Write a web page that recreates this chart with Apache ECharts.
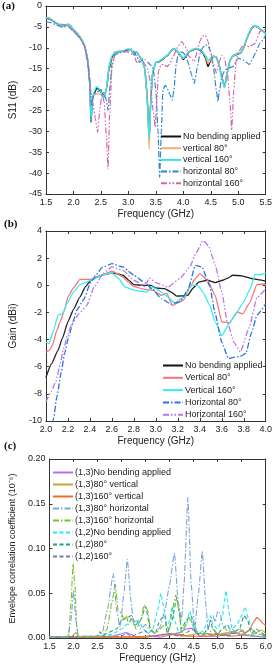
<!DOCTYPE html>
<html><head><meta charset="utf-8">
<script src="https://cdn.jsdelivr.net/npm/echarts@6/dist/echarts.min.js"></script>
<style>html,body{margin:0;padding:0;background:#fff}#c{width:275px;height:664px}</style>
</head><body><div id="c"></div>
<script>
// ---------- Panel (a): S11 (dB) ----------
const a_noBend = [[1.5,-3.0],[1.55,-2.9],[1.6,-3.3],[1.65,-3.8],[1.7,-4.2],[1.75,-4.6],[1.8,-4.8],[1.85,-4.6],[1.9,-4.4],[1.95,-4.8],[2.0,-5.6],[2.05,-6.3],[2.1,-7.1],[2.15,-8.0],[2.2,-9.3],[2.25,-12],[2.28,-15],[2.3,-19],[2.32,-27.8],[2.35,-22],[2.38,-21],[2.42,-19.7],[2.46,-19.9],[2.5,-20.6],[2.56,-21.6],[2.6,-20],[2.65,-15],[2.7,-12.4],[2.75,-11.2],[2.8,-11],[2.9,-10.8],[3.0,-10.4],[3.05,-10.6],[3.1,-11.5],[3.15,-11],[3.2,-12],[3.25,-13],[3.3,-15],[3.34,-21],[3.38,-32],[3.41,-22],[3.44,-16],[3.5,-13.5],[3.55,-13.4],[3.6,-13],[3.7,-12],[3.8,-10.5],[3.83,-10.2],[3.9,-11],[3.95,-12],[4.0,-12.8],[4.05,-12],[4.1,-11],[4.2,-10.4],[4.25,-10.2],[4.3,-10.6],[4.35,-11.2],[4.4,-12.3],[4.45,-14.5],[4.5,-13],[4.55,-12],[4.6,-12.2],[4.65,-14],[4.7,-17],[4.75,-19.4],[4.8,-16],[4.85,-13],[4.9,-12],[5.0,-11.5],[5.05,-11.2],[5.1,-10],[5.15,-8],[5.2,-6.5],[5.25,-5.2],[5.3,-4.8],[5.35,-5],[5.4,-5.6],[5.5,-6.6]];
const a_vert80 = [[1.5,-2.9],[1.55,-2.8],[1.6,-3.2],[1.65,-3.7],[1.7,-4.1],[1.75,-4.5],[1.8,-4.7],[1.85,-4.5],[1.9,-4.3],[1.95,-4.7],[2.0,-5.5],[2.05,-6.2],[2.1,-7.0],[2.15,-7.9],[2.2,-9.2],[2.25,-11.8],[2.28,-15],[2.3,-19],[2.32,-26],[2.35,-21.5],[2.4,-21],[2.45,-21],[2.5,-21.2],[2.56,-21.6],[2.6,-20],[2.65,-14.5],[2.7,-12],[2.75,-11],[2.8,-10.8],[2.9,-10.7],[3.0,-10.4],[3.05,-10.6],[3.1,-11.3],[3.15,-11],[3.2,-12],[3.25,-13],[3.3,-15],[3.34,-22],[3.38,-34.2],[3.41,-22],[3.44,-16],[3.5,-13.5],[3.55,-13.3],[3.6,-12.9],[3.7,-12],[3.8,-10.4],[3.83,-10.2],[3.9,-11],[3.95,-12],[4.0,-12.6],[4.05,-11.8],[4.1,-11],[4.2,-10.3],[4.25,-10.2],[4.3,-10.5],[4.35,-11],[4.4,-12],[4.45,-13.8],[4.5,-12.8],[4.55,-12],[4.6,-12.2],[4.65,-14],[4.7,-17],[4.75,-19.6],[4.8,-16],[4.85,-13],[4.9,-12],[5.0,-11.4],[5.05,-11.2],[5.1,-10],[5.15,-8],[5.2,-6.4],[5.25,-5.1],[5.3,-4.8],[5.35,-5],[5.4,-5.6],[5.5,-6.6]];
const a_vert160 = [[1.5,-2.8],[1.55,-2.8],[1.6,-3.2],[1.65,-3.7],[1.7,-4.2],[1.75,-4.6],[1.8,-4.8],[1.85,-4.5],[1.9,-4.4],[1.95,-4.8],[2.0,-5.6],[2.05,-6.3],[2.1,-7.1],[2.15,-8.0],[2.2,-9.4],[2.25,-12],[2.28,-15],[2.3,-19.5],[2.32,-27.3],[2.36,-21],[2.42,-19.3],[2.48,-20],[2.55,-22],[2.6,-20],[2.65,-14],[2.7,-12],[2.75,-11.2],[2.8,-11],[2.9,-10.8],[3.0,-10.3],[3.05,-10.5],[3.1,-11.3],[3.15,-11],[3.2,-12],[3.25,-13],[3.3,-15],[3.34,-21],[3.38,-31.8],[3.41,-22],[3.44,-16],[3.5,-13.4],[3.55,-13.3],[3.6,-12.8],[3.7,-11.8],[3.8,-10.4],[3.83,-10.1],[3.9,-10.8],[3.95,-11.8],[4.0,-12.5],[4.05,-11.8],[4.1,-10.8],[4.2,-10.2],[4.25,-10.1],[4.3,-10.4],[4.35,-11],[4.4,-11.8],[4.45,-13],[4.5,-12.5],[4.55,-12],[4.6,-12.2],[4.65,-14],[4.7,-17.5],[4.75,-19.5],[4.8,-16],[4.85,-12.8],[4.9,-11.8],[5.0,-11.3],[5.05,-11],[5.1,-9.8],[5.15,-7.8],[5.2,-6.2],[5.25,-5],[5.3,-4.6],[5.35,-4.9],[5.4,-5.5],[5.5,-6.8]];
const a_horiz80 = [[1.5,-3.7],[1.6,-4.0],[1.7,-4.6],[1.8,-5.1],[1.9,-4.8],[2.0,-6.0],[2.1,-7.3],[2.2,-9.5],[2.25,-12.5],[2.3,-18],[2.33,-24],[2.36,-21.5],[2.4,-21],[2.45,-20.5],[2.5,-20],[2.55,-20.8],[2.6,-22.5],[2.63,-25],[2.67,-19],[2.7,-14],[2.75,-11.8],[2.8,-11.3],[2.9,-11],[3.0,-10.5],[3.05,-10.2],[3.1,-10.8],[3.15,-12],[3.2,-13.5],[3.25,-13],[3.3,-12.8],[3.35,-13.5],[3.4,-14],[3.45,-15],[3.5,-20],[3.54,-30],[3.57,-41],[3.6,-30],[3.63,-20],[3.67,-19],[3.7,-19.5],[3.75,-21],[3.8,-22.5],[3.83,-20],[3.87,-14],[3.9,-12],[3.95,-11],[4.0,-11.2],[4.05,-12],[4.1,-14],[4.15,-16.5],[4.2,-18.5],[4.25,-15],[4.3,-11.5],[4.35,-10],[4.4,-9.3],[4.45,-9.5],[4.5,-11],[4.55,-15],[4.6,-20],[4.63,-22.8],[4.66,-20],[4.7,-17],[4.75,-15.5],[4.8,-15],[4.9,-14.5],[5.0,-12.5],[5.1,-13],[5.2,-14],[5.25,-13],[5.3,-11.5],[5.4,-8.8],[5.5,-7]];
const a_horiz160 = [[1.5,-3.0],[1.6,-3.4],[1.7,-4.2],[1.8,-4.4],[1.9,-4.6],[2.0,-6.0],[2.1,-7.5],[2.2,-9.5],[2.25,-13],[2.3,-19],[2.35,-23],[2.4,-27],[2.44,-30.2],[2.48,-25],[2.52,-21],[2.56,-23],[2.6,-31],[2.63,-39],[2.66,-26],[2.7,-15],[2.75,-12],[2.8,-11.5],[2.9,-11],[3.0,-11],[3.05,-11.5],[3.1,-11.5],[3.15,-13.5],[3.2,-13],[3.25,-12.5],[3.3,-14],[3.35,-15],[3.4,-18],[3.45,-25],[3.49,-29],[3.52,-22],[3.55,-15.5],[3.6,-14],[3.65,-14],[3.7,-14.5],[3.75,-14],[3.8,-12.5],[3.9,-9.8],[3.97,-8.5],[4.05,-10],[4.1,-12],[4.2,-13.3],[4.25,-11],[4.3,-8.5],[4.35,-7.2],[4.4,-7],[4.45,-8.5],[4.5,-11],[4.55,-14],[4.6,-16],[4.65,-13.5],[4.7,-11.8],[4.75,-12.5],[4.8,-16],[4.85,-23],[4.88,-29.7],[4.92,-20],[4.96,-13],[5.0,-11],[5.1,-9.3],[5.2,-9.8],[5.3,-9],[5.4,-6],[5.5,-5.5]];
const a_names = ['No bending applied','vertical 80°','vertical 160°','horizontal 80°','horizontal 160°'];

// ---------- Panel (b): Gain (dBi) ----------
const b_noBend = [[2.0,-6.8],[2.05,-5.8],[2.11,-4.8],[2.15,-3.9],[2.2,-2.7],[2.25,-1.8],[2.31,-0.86],[2.36,-0.1],[2.41,0.37],[2.46,0.6],[2.51,0.74],[2.55,0.82],[2.6,0.9],[2.65,0.85],[2.7,0.74],[2.75,0.4],[2.8,0.05],[2.85,0.02],[2.9,0.0],[2.95,0.0],[3.0,-0.2],[3.08,-0.25],[3.14,-0.5],[3.19,-0.8],[3.24,-0.78],[3.29,-0.74],[3.34,-0.2],[3.39,0.24],[3.47,0.37],[3.54,0.2],[3.61,0.37],[3.66,0.55],[3.7,0.74],[3.78,0.7],[3.87,0.5],[3.94,0.4],[4.0,0.3]];
const b_vert80 = [[2.0,-4.96],[2.03,-4.8],[2.06,-4.4],[2.1,-3.3],[2.13,-2.7],[2.17,-1.8],[2.2,-0.86],[2.25,-0.2],[2.31,0.44],[2.41,0.44],[2.51,0.74],[2.6,1.05],[2.65,0.85],[2.7,0.6],[2.75,0.25],[2.8,-0.1],[2.9,-0.3],[2.98,-0.37],[3.02,-0.6],[3.05,-0.74],[3.1,-0.6],[3.15,-1.5],[3.2,-1.3],[3.25,-1.1],[3.31,-0.13],[3.36,0.5],[3.4,0.86],[3.47,0.37],[3.54,-0.74],[3.6,-2.7],[3.67,-2.76],[3.74,-1.97],[3.79,-2.1],[3.85,-1.35],[3.92,0.05],[3.99,0.1],[4.0,0.0]];
const b_vert160 = [[2.0,-4.18],[2.03,-4.3],[2.07,-3.3],[2.11,-2.2],[2.15,-2.1],[2.2,-1.23],[2.25,-0.5],[2.31,0.05],[2.36,0.2],[2.41,0.37],[2.51,0.74],[2.6,0.9],[2.66,0.5],[2.72,-0.13],[2.82,-0.4],[2.92,-0.5],[2.96,-0.1],[3.0,-0.25],[3.05,-0.5],[3.11,-0.86],[3.17,-1.3],[3.25,-0.9],[3.32,0.0],[3.38,0.0],[3.43,-0.5],[3.49,-1.47],[3.54,-2.7],[3.6,-3.7],[3.67,-2.8],[3.72,-2.2],[3.79,-1.35],[3.86,-0.25],[3.9,0.79],[3.95,0.79],[4.0,0.9]];
const b_horiz80 = [[2.04,-11],[2.07,-9.8],[2.1,-8.2],[2.14,-6.4],[2.17,-5],[2.21,-3.7],[2.25,-2.6],[2.28,-1.84],[2.34,-1.1],[2.41,0.24],[2.46,0.8],[2.51,1.3],[2.6,1.6],[2.7,1.35],[2.8,0.74],[2.9,0.2],[2.97,-0.3],[3.05,-1.0],[3.14,-1.4],[3.22,-1.2],[3.29,-0.37],[3.36,1.47],[3.42,1.35],[3.49,-0.05],[3.54,-2.1],[3.6,-4.2],[3.66,-5.4],[3.72,-5.3],[3.78,-5.2],[3.82,-5.0],[3.87,-3.5],[3.92,-2.2],[4.0,-1.35]];
const b_horiz160 = [[2.0,-8.6],[2.05,-7.8],[2.09,-7.1],[2.13,-5.8],[2.16,-4.7],[2.2,-3.6],[2.23,-2.95],[2.3,-2.1],[2.37,-1.5],[2.44,-0.13],[2.52,0.86],[2.6,1.35],[2.7,1.1],[2.8,0.37],[2.9,-0.1],[2.94,0.55],[3.0,0.2],[3.11,-0.13],[3.22,0.5],[3.31,1.35],[3.36,2.3],[3.43,3.3],[3.48,2.9],[3.54,1.5],[3.6,-0.5],[3.65,-2.7],[3.71,-4.2],[3.77,-4.9],[3.85,-3.1],[3.92,-0.9],[4.0,-0.25]];
const b_names = ['No bending applied','Vertical 80°','Vertical 160°','Horizontal 80°','Horizontal 160°'];

// ---------- Panel (c): Envelope correlation coefficient ----------
const c_13_noBend = [[1.5,0.001],[2.5,0.001],[2.8,0.002],[2.95,0.004],[3.1,0.006],[3.2,0.004],[3.3,0.001],[3.6,0.002],[3.8,0.001],[4.0,0.003],[4.2,0.006],[4.35,0.01],[4.45,0.011],[4.55,0.006],[4.65,0.002],[5.0,0.002],[5.2,0.004],[5.35,0.006],[5.5,0.003],[5.8,0.002],[6.0,0.001]];
const c_13_vert80 = [[1.5,0.001],[1.95,0.001],[2.05,0.006],[2.12,0.001],[3.0,0.001],[3.5,0.002],[4.0,0.004],[4.3,0.002],[4.6,0.005],[5.0,0.004],[5.3,0.007],[5.5,0.004],[5.7,0.01],[5.8,0.006],[5.92,0.009],[6.0,0.005]];
const c_13_vert160 = [[1.5,0.001],[3.5,0.001],[3.8,0.003],[4.0,0.005],[4.2,0.004],[4.4,0.002],[4.8,0.002],[5.0,0.004],[5.3,0.002],[5.5,0.003],[5.65,0.008],[5.75,0.018],[5.82,0.023],[5.88,0.02],[5.95,0.016],[6.0,0.014]];
const c_13_horiz80 = [[1.5,0.001],[1.88,0.001],[1.95,0.02],[2.0,0.053],[2.05,0.02],[2.1,0.002],[2.5,0.002],[2.6,0.006],[2.7,0.03],[2.83,0.072],[2.9,0.03],[2.97,0.012],[3.05,0.05],[3.12,0.088],[3.2,0.04],[3.25,0.015],[3.3,0.02],[3.4,0.01],[3.5,0.015],[3.6,0.008],[3.7,0.005],[3.8,0.012],[3.9,0.03],[4.0,0.06],[4.1,0.095],[4.18,0.04],[4.25,0.02],[4.3,0.06],[4.38,0.157],[4.45,0.06],[4.52,0.01],[4.6,0.05],[4.68,0.097],[4.75,0.04],[4.8,0.008],[4.85,0.02],[4.9,0.025],[4.95,0.018],[5.0,0.03],[5.05,0.028],[5.1,0.015],[5.2,0.008],[5.3,0.01],[5.4,0.005],[5.5,0.008],[5.6,0.004],[5.8,0.002],[6.0,0.001]];
const c_13_horiz160 = [[1.5,0.001],[1.9,0.002],[1.95,0.04],[1.99,0.083],[2.03,0.06],[2.07,0.01],[2.1,0.001],[2.6,0.002],[2.7,0.01],[2.8,0.04],[2.87,0.06],[2.93,0.03],[3.0,0.028],[3.05,0.02],[3.1,0.025],[3.15,0.015],[3.2,0.022],[3.25,0.02],[3.3,0.01],[3.4,0.02],[3.47,0.037],[3.55,0.03],[3.6,0.01],[3.7,0.005],[3.8,0.01],[3.9,0.015],[4.0,0.01],[4.05,0.03],[4.13,0.048],[4.2,0.03],[4.25,0.005],[4.3,0.01],[4.4,0.022],[4.5,0.015],[4.6,0.005],[4.8,0.005],[4.9,0.01],[5.0,0.003],[5.2,0.005],[5.5,0.01],[5.6,0.003],[5.8,0.005],[6.0,0.002]];
const c_12_noBend = [[1.5,0.001],[2.5,0.002],[2.8,0.004],[3.0,0.01],[3.1,0.015],[3.2,0.02],[3.28,0.014],[3.35,0.02],[3.45,0.01],[3.55,0.005],[3.65,0.01],[3.75,0.03],[3.82,0.05],[3.9,0.028],[3.95,0.01],[4.0,0.02],[4.05,0.035],[4.1,0.02],[4.2,0.005],[4.35,0.015],[4.42,0.03],[4.5,0.01],[4.6,0.005],[4.7,0.008],[4.8,0.02],[4.85,0.025],[4.9,0.015],[5.0,0.01],[5.1,0.025],[5.17,0.053],[5.25,0.025],[5.3,0.01],[5.4,0.015],[5.5,0.025],[5.57,0.035],[5.65,0.02],[5.7,0.01],[5.8,0.005],[6.0,0.002]];
const c_12_80 = [[1.5,0.001],[2.5,0.002],[2.55,0.007],[2.6,0.003],[2.9,0.01],[3.0,0.02],[3.1,0.022],[3.2,0.025],[3.3,0.015],[3.4,0.02],[3.5,0.035],[3.6,0.01],[3.7,0.005],[3.8,0.02],[3.9,0.025],[3.95,0.005],[4.05,0.02],[4.15,0.045],[4.25,0.01],[4.35,0.02],[4.45,0.025],[4.55,0.005],[4.7,0.005],[4.8,0.01],[4.85,0.02],[4.9,0.01],[5.0,0.005],[5.1,0.01],[5.2,0.015],[5.3,0.005],[5.45,0.01],[5.55,0.025],[5.62,0.02],[5.7,0.005],[5.8,0.01],[6.0,0.002]];
const c_12_160 = [[1.5,0.001],[3.0,0.002],[3.1,0.005],[3.2,0.002],[3.5,0.008],[3.6,0.002],[4.0,0.005],[4.2,0.002],[4.5,0.01],[4.6,0.003],[5.0,0.005],[5.2,0.002],[5.5,0.008],[5.6,0.003],[6.0,0.001]];
const c_names = ['(1,3)No bending applied','(1,3)80° vertical','(1,3)160° vertical','(1,3)80° horizontal','(1,3)160° horizontal','(1,2)No bending applied','(1,2)80°','(1,2)160°'];

// ---------- build ----------
const FONT = 'Liberation Sans';
const DASHDOT = [6,2,1.5,2];
const DASHDOTDOT = [6,2,1.5,2,1.5,2];
const DASH = [4,2.5];
const grids = [
  {left:31, top:6, width:235, height:188},
  {left:28, top:231, width:238, height:190},
  {left:42, top:459, width:227, height:182}
];
const xr = [{min:1.5,max:5.5,interval:0.5,dec:1},{min:2.0,max:4.0,interval:0.2,dec:1},{min:1.5,max:6.0,interval:0.5,dec:1}];
const yr = [{min:-45,max:0,interval:5,dec:0,name:'S11 (dB)',gap:20},{min:-10,max:4,interval:2,dec:0,name:'Gain (dBi)',gap:17},{min:0,max:0.2,interval:0.05,dec:2,name:'Envelope correlation coefficient (10⁻⁶)',gap:26}];
const xAxis=[], yAxis=[];
function ax(r, gi, pos, show, extra){
  return Object.assign({type:'value', gridIndex:gi, position:pos, min:r.min, max:r.max, interval:r.interval,
    axisLine:{show:true, onZero:false, lineStyle:{color:'#333',width:1}},
    axisTick:{show:true, inside:true, length:3, lineStyle:{color:'#333'}},
    splitLine:{show:false},
    axisLabel:{show:show, fontSize:9, color:'#222', fontFamily:FONT, margin:4,
      formatter: v => Number(v).toFixed(r.dec)}}, extra||{});
}
for(let i=0;i<3;i++){
  xAxis.push(ax(xr[i], i, 'bottom', true, {name:'Frequency (GHz)', nameLocation:'middle', nameGap:15,
    nameTextStyle:{fontSize:10,color:'#222',fontFamily:FONT}}));
  xAxis.push(ax(xr[i], i, 'top', false));
  yAxis.push(ax(yr[i], i, 'left', true, {name:yr[i].name, nameLocation:'middle', nameGap:yr[i].gap, nameRotate:90,
    nameTextStyle:{fontSize:i===2?9:10,color:'#222',fontFamily:FONT}}));
  yAxis.push(ax(yr[i], i, 'right', false));
}
const series=[];
function add(gi, name, data, color, type, width){
  series.push({type:'line', name:name, xAxisIndex:gi*2, yAxisIndex:gi*2, data:data, symbol:'none',
    smooth:0.15, smoothMonotone:'x', clip:true, animation:false,
    lineStyle:{color:color, width:width||1.2, type:type||'solid'}, itemStyle:{color:color}});
}
const aData=[a_noBend,a_vert80,a_vert160,a_horiz80,a_horiz160];
const aCol=['#111111','#f7ad74','#2ee6ef','#2f86d0','#d567a8'];
const aType=['solid','solid','solid',DASHDOT,DASHDOTDOT];
for(let k=0;k<5;k++) add(0,a_names[k],aData[k],aCol[k],aType[k],k<3?1.4:1.2);
const bData=[b_noBend,b_vert80,b_vert160,b_horiz80,b_horiz160];
const bCol=['#222222','#f27575','#36eef0','#2a72e0','#b878ea'];
const bType=['solid','solid','solid',DASHDOT,DASHDOTDOT];
for(let k=0;k<5;k++) add(1,b_names[k],bData[k],bCol[k],bType[k],1.3);
const cData=[c_13_noBend,c_13_vert80,c_13_vert160,c_13_horiz80,c_13_horiz160,c_12_noBend,c_12_80,c_12_160];
const cCol=['#b66cf0','#c9a23a','#f26a25','#7aa6d8','#78c31e','#1eeaf5','#2f9a78','#7676b6'];
const cType=['solid','solid','solid',DASHDOT,DASHDOT,DASH,DASH,DASH];
const order=[0,1,2,5,6,7,4,3];
for(const k of order) add(2,c_names[k],cData[k],cCol[k],cType[k],1.1);

function leg(data, left, top, gap){
  return {data:data, left:left, top:top, orient:'vertical', itemWidth:20, itemHeight:8, itemGap:gap,
    padding:0, itemStyle:{opacity:0}, textStyle:{fontSize:9, color:'#222', fontFamily:FONT, padding:[0,0,0,-3]}, selectedMode:false};
}
const option = {
  backgroundColor:'#fff',
  grid: grids.map(g=>Object.assign({containLabel:false}, g)),
  xAxis, yAxis, series,
  legend:[leg(a_names,160,132,2.7), leg(b_names,162,361,3.3), leg(c_names,52,468,3)],
  graphic:[
    {type:'text', left:2, top:1, style:{text:'(a)', font:'bold 11px "Liberation Serif"', fill:'#111'}},
    {type:'text', left:4, top:219, style:{text:'(b)', font:'bold 11px "Liberation Serif"', fill:'#111'}},
    {type:'text', left:4, top:441, style:{text:'(c)', font:'bold 11px "Liberation Serif"', fill:'#111'}}
  ]
};
const chart = echarts.init(document.getElementById('c'), null, {renderer:'canvas'});
chart.setOption(option);
</script></body></html>
